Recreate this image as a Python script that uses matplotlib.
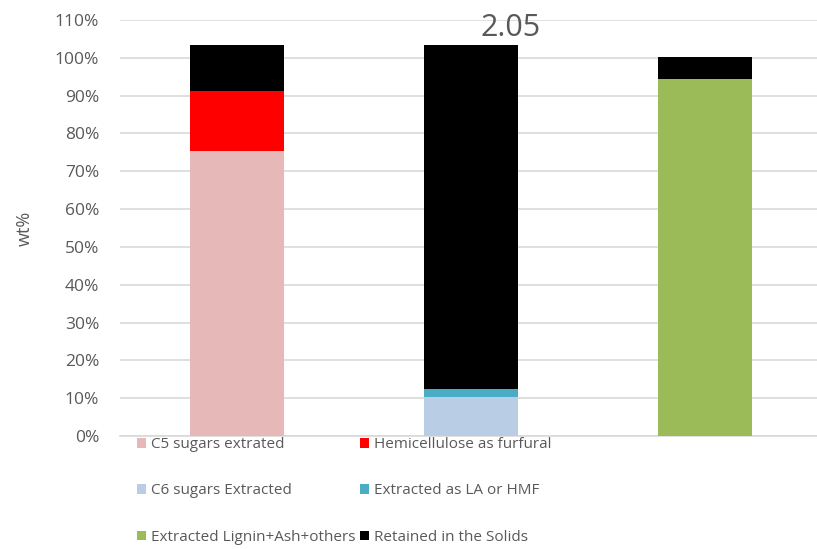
import matplotlib.pyplot as plt
from matplotlib.patches import Patch
from matplotlib.ticker import PercentFormatter

plt.rcParams['font.family'] = ['Open Sans', 'DejaVu Sans']

# three stacked bars, no category labels on the x axis
bars = ['A', 'B', 'C']
c5_sugars = [75.4, 0, 0]
furfural = [15.9, 0, 0]
c6_sugars = [0, 10.3, 0]
la_hmf = [0, 2.1, 0]
lignin = [0, 0, 94.4]
retained = [12.1, 91.0, 5.9]

series = [
    ('C5 sugars extrated', c5_sugars, '#E6B9B8'),
    ('Hemicellulose as furfural', furfural, '#FF0000'),
    ('C6 sugars Extracted', c6_sugars, '#B9CDE5'),
    ('Extracted as LA or HMF', la_hmf, '#4BACC6'),
    ('Extracted Lignin+Ash+others', lignin, '#9BBB59'),
    ('Retained in the Solids', retained, '#000000'),
]

grey = '#595959'
fig = plt.figure(figsize=(8.17, 5.49), dpi=100)
ax = fig.add_axes([120 / 817, (549 - 436) / 549, (817 - 120) / 817, (436 - 20) / 549])

x = range(len(bars))
bottom = [0, 0, 0]
handles = {}
for name, vals, col in series:
    ax.bar(x, vals, width=0.4, bottom=bottom, color=col, zorder=3)
    bottom = [b + v for b, v in zip(bottom, vals)]
    handles[name] = Patch(facecolor=col, label=name)

ax.set_xlim(-0.5, 2.48)
ax.set_ylim(0, 110)
ax.set_yticks(range(0, 111, 10))
ax.yaxis.set_major_formatter(PercentFormatter(decimals=0))
ax.set_xticks([])
ax.grid(axis='y', color='#D9D9D9', linewidth=1.2, zorder=0)
for s in ['top', 'right', 'left']:
    ax.spines[s].set_visible(False)
ax.spines['bottom'].set_color('#D9D9D9')
ax.spines['bottom'].set_linewidth(1.2)
ax.tick_params(axis='y', length=0, labelsize=12.5, labelcolor=grey, pad=15)
ax.set_ylabel('wt%', fontsize=13, color=grey, labelpad=15)

fig.text(511 / 817, 1 - 28 / 549, '2.05', fontsize=22, color=grey,
         ha='center', va='center')

order = ['C5 sugars extrated', 'C6 sugars Extracted', 'Extracted Lignin+Ash+others',
         'Hemicellulose as furfural', 'Extracted as LA or HMF', 'Retained in the Solids']
fig.legend(handles=[handles[n] for n in order], ncol=2, loc='upper left',
           bbox_to_anchor=(131 / 817, 1 - 431 / 549), frameon=False,
           fontsize=11, labelcolor=grey, handlelength=0.6, handleheight=0.6,
           handletextpad=0.3, columnspacing=0.3, labelspacing=2.05,
           borderaxespad=0)

fig.savefig('out.png', dpi=100)
